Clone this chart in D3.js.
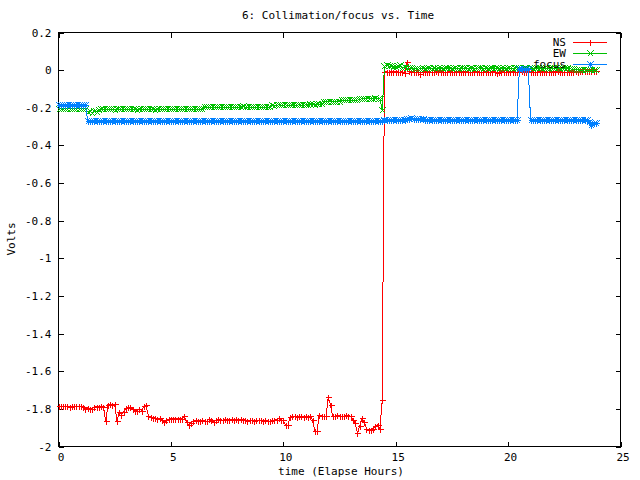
<!DOCTYPE html>
<html><head><meta charset="utf-8">
<script src="https://cdn.jsdelivr.net/npm/d3@7"></script>
<style>
body{margin:0;background:#fff}
svg{display:block}
text{font-family:"DejaVu Sans Mono",monospace;font-size:11px;fill:#000}
</style>
</head><body><svg id="c" width="640" height="480"></svg>
<script>
// sample times (hours), one sample every 0.1 h
const hours = d3.range(240).map(i => i / 10);

const nsValues = [
-1.787,-1.787,-1.787,-1.787,-1.787,-1.788,-1.787,-1.787,-1.787,-1.787,
-1.787,-1.790,-1.800,-1.795,-1.800,-1.800,-1.790,-1.790,-1.790,-1.785,
-1.790,-1.865,-1.778,-1.775,-1.778,-1.776,-1.865,-1.815,-1.830,-1.815,
-1.795,-1.790,-1.792,-1.800,-1.810,-1.810,-1.800,-1.810,-1.785,-1.782,
-1.840,-1.842,-1.850,-1.850,-1.855,-1.850,-1.857,-1.872,-1.860,-1.855,
-1.853,-1.853,-1.853,-1.853,-1.853,-1.853,-1.840,-1.870,-1.885,-1.875,
-1.865,-1.860,-1.865,-1.865,-1.860,-1.865,-1.865,-1.855,-1.860,-1.870,
-1.860,-1.855,-1.860,-1.860,-1.855,-1.860,-1.860,-1.855,-1.860,-1.855,
-1.860,-1.855,-1.860,-1.860,-1.865,-1.860,-1.860,-1.862,-1.860,-1.860,
-1.860,-1.862,-1.860,-1.865,-1.865,-1.860,-1.860,-1.858,-1.850,-1.860,
-1.860,-1.885,-1.888,-1.845,-1.840,-1.840,-1.845,-1.840,-1.840,-1.845,
-1.840,-1.845,-1.840,-1.860,-1.918,-1.918,-1.830,-1.840,-1.840,-1.840,
-1.737,-1.780,-1.840,-1.840,-1.835,-1.840,-1.840,-1.840,-1.835,-1.840,
-1.840,-1.860,-1.875,-1.930,-1.890,-1.850,-1.870,-1.905,-1.910,-1.910,
-1.905,-1.890,-1.885,-1.905,-1.755,-0.010,-0.008,-0.012,-0.008,-0.010,
-0.008,-0.010,-0.012,-0.008,-0.015,0.044,-0.005,-0.010,-0.008,-0.012,
-0.008,-0.018,-0.010,-0.008,-0.010,-0.008,-0.012,-0.010,-0.005,-0.008,
-0.010,-0.008,-0.012,-0.010,-0.008,-0.010,-0.012,-0.008,-0.010,-0.008,
-0.008,-0.010,-0.008,-0.012,-0.010,-0.008,-0.010,-0.008,-0.012,-0.010,
-0.008,-0.010,-0.012,-0.008,-0.010,-0.015,-0.010,-0.008,-0.010,-0.012,
-0.008,-0.010,-0.008,-0.010,-0.012,-0.008,-0.005,-0.008,-0.010,-0.008,
-0.010,-0.008,-0.012,-0.010,-0.008,-0.010,-0.008,-0.010,-0.012,-0.008,
-0.010,-0.008,-0.005,-0.010,-0.008,-0.012,-0.010,-0.008,-0.010,-0.008,
-0.005,-0.008,-0.005,-0.003,-0.005,-0.005,-0.003,-0.005,-0.005,-0.003
];

const ewValues = [
-0.205,-0.205,-0.207,-0.205,-0.205,-0.206,-0.205,-0.205,-0.207,-0.205,
-0.205,-0.205,-0.206,-0.222,-0.218,-0.226,-0.215,-0.220,-0.210,-0.209,
-0.209,-0.209,-0.208,-0.209,-0.209,-0.210,-0.209,-0.209,-0.208,-0.209,
-0.209,-0.208,-0.209,-0.209,-0.209,-0.210,-0.209,-0.208,-0.209,-0.209,
-0.208,-0.209,-0.209,-0.210,-0.209,-0.209,-0.208,-0.209,-0.209,-0.209,
-0.209,-0.208,-0.209,-0.209,-0.208,-0.209,-0.209,-0.208,-0.208,-0.207,
-0.207,-0.207,-0.208,-0.207,-0.207,-0.197,-0.197,-0.196,-0.197,-0.197,
-0.197,-0.196,-0.197,-0.197,-0.197,-0.196,-0.197,-0.197,-0.196,-0.197,
-0.197,-0.197,-0.192,-0.197,-0.196,-0.197,-0.197,-0.196,-0.197,-0.197,
-0.196,-0.197,-0.197,-0.196,-0.197,-0.186,-0.190,-0.186,-0.185,-0.186,
-0.186,-0.185,-0.186,-0.186,-0.185,-0.186,-0.186,-0.185,-0.186,-0.186,
-0.185,-0.186,-0.181,-0.180,-0.186,-0.178,-0.181,-0.180,-0.170,-0.168,
-0.168,-0.168,-0.167,-0.168,-0.168,-0.167,-0.160,-0.160,-0.161,-0.160,
-0.160,-0.160,-0.160,-0.160,-0.155,-0.151,-0.151,-0.152,-0.151,-0.151,
-0.151,-0.150,-0.151,-0.151,-0.213,0.020,0.025,0.020,0.022,0.018,
0.015,0.020,0.027,0.012,0.015,0.010,0.010,0.012,0.005,0.008,
0.005,0.008,0.010,0.008,0.010,0.012,0.008,0.010,0.008,0.010,
0.010,0.008,0.010,0.012,0.010,0.008,0.010,0.010,0.008,0.010,
0.010,0.012,0.008,0.010,0.010,0.008,0.010,0.012,0.010,0.008,
0.010,0.008,0.010,0.012,0.010,0.010,0.008,0.010,0.010,0.008,
0.010,0.010,0.008,0.010,0.012,0.010,0.008,0.010,0.010,0.008,
0.010,0.008,0.010,0.012,0.010,0.008,0.010,0.010,0.008,0.010,
0.010,0.012,0.010,0.008,0.010,0.012,0.010,0.008,0.006,0.005,
0.003,0.002,0.000,0.000,0.001,0.000,0.000,0.000,0.000,0.000
];

const focusValues = [
-0.183,-0.183,-0.183,-0.183,-0.183,-0.183,-0.183,-0.183,-0.183,-0.183,
-0.183,-0.183,-0.184,-0.268,-0.268,-0.268,-0.268,-0.268,-0.268,-0.268,
-0.268,-0.268,-0.268,-0.268,-0.268,-0.268,-0.268,-0.268,-0.268,-0.268,
-0.268,-0.268,-0.268,-0.268,-0.268,-0.268,-0.268,-0.268,-0.268,-0.268,
-0.268,-0.268,-0.268,-0.268,-0.268,-0.268,-0.268,-0.268,-0.268,-0.268,
-0.268,-0.268,-0.268,-0.268,-0.268,-0.268,-0.268,-0.268,-0.268,-0.268,
-0.268,-0.268,-0.268,-0.268,-0.268,-0.268,-0.268,-0.268,-0.268,-0.268,
-0.268,-0.268,-0.268,-0.268,-0.268,-0.268,-0.268,-0.268,-0.268,-0.268,
-0.268,-0.268,-0.268,-0.268,-0.268,-0.268,-0.268,-0.268,-0.268,-0.268,
-0.268,-0.268,-0.268,-0.268,-0.268,-0.268,-0.268,-0.268,-0.268,-0.268,
-0.268,-0.268,-0.268,-0.268,-0.268,-0.268,-0.268,-0.268,-0.268,-0.268,
-0.268,-0.268,-0.268,-0.268,-0.268,-0.268,-0.268,-0.268,-0.268,-0.268,
-0.268,-0.268,-0.268,-0.268,-0.268,-0.268,-0.268,-0.268,-0.268,-0.268,
-0.268,-0.268,-0.268,-0.268,-0.268,-0.268,-0.268,-0.268,-0.268,-0.268,
-0.268,-0.268,-0.268,-0.268,-0.268,-0.266,-0.266,-0.266,-0.266,-0.266,
-0.266,-0.266,-0.266,-0.266,-0.266,-0.258,-0.258,-0.257,-0.258,-0.258,
-0.258,-0.258,-0.258,-0.266,-0.266,-0.266,-0.266,-0.266,-0.266,-0.266,
-0.266,-0.266,-0.266,-0.266,-0.266,-0.266,-0.266,-0.266,-0.266,-0.266,
-0.266,-0.266,-0.266,-0.266,-0.266,-0.266,-0.266,-0.266,-0.266,-0.266,
-0.266,-0.266,-0.266,-0.266,-0.266,-0.266,-0.266,-0.266,-0.266,-0.266,
-0.266,-0.266,-0.266,-0.266,-0.266,0.005,0.005,0.005,0.005,0.005,
-0.266,-0.266,-0.266,-0.266,-0.266,-0.266,-0.266,-0.266,-0.266,-0.266,
-0.266,-0.266,-0.266,-0.266,-0.266,-0.266,-0.266,-0.266,-0.266,-0.266,
-0.266,-0.266,-0.266,-0.266,-0.266,-0.266,-0.275,-0.290,-0.283,-0.282
];

const seriesNames = ["NS", "EW", "focus"];
const xTicks = [0, 5, 10, 15, 20, 25];
const yTicks = [0.2, 0, -0.2, -0.4, -0.6, -0.8, -1, -1.2, -1.4, -1.6, -1.8, -2];
const titleText = "6: Collimation/focus vs. Time";
const xLabel = "time (Elapse Hours)";
const yLabel = "Volts";

// styles
const colors = {NS: "#ff0000", EW: "#00c000", focus: "#0080ff"};
const markerPaths = {
  NS: "M-3,0H3M0,-3V3",
  EW: "M-3,-3L3,3M-3,3L3,-3",
  focus: "M-3,0H3M0,-3V3M-3,-3L3,3M-3,3L3,-3"
};

const series = [
  {name: "NS", values: nsValues},
  {name: "EW", values: ewValues},
  {name: "focus", values: focusValues}
];

const svg = d3.select("#c");
const L = 58.5, R = 620.5, T = 32.5, B = 446.5;
const x = d3.scaleLinear().domain([0, 25]).range([L, R]);
const y = d3.scaleLinear().domain([-2, 0.2]).range([B, T]);

const fmt = v => String(+v.toFixed(1));

// axes (ticks inward, mirrored)
const axB = svg.append("g").attr("transform", `translate(0,${B})`)
  .call(d3.axisBottom(x).tickValues(xTicks).tickFormat(fmt).tickSizeInner(-5).tickSizeOuter(0).tickPadding(7));
const axT = svg.append("g").attr("transform", `translate(0,${T})`)
  .call(d3.axisTop(x).tickValues(xTicks).tickFormat("").tickSizeInner(-5).tickSizeOuter(0));
const axL = svg.append("g").attr("transform", `translate(${L},0)`)
  .call(d3.axisLeft(y).tickValues(yTicks).tickFormat(fmt).tickSizeInner(-5).tickSizeOuter(0).tickPadding(7));
const axR = svg.append("g").attr("transform", `translate(${R},0)`)
  .call(d3.axisRight(y).tickValues(yTicks).tickFormat("").tickSizeInner(-5).tickSizeOuter(0));
[axB, axT, axL, axR].forEach(a => {
  a.select(".domain").remove();
  a.selectAll("line").attr("stroke", "#000").attr("shape-rendering", "crispEdges");
  a.selectAll("text").attr("font-family", "DejaVu Sans Mono, monospace").attr("font-size", 11).attr("fill", "#000");
});
axB.selectAll("text").attr("dx", 2);

svg.append("rect").attr("x", L).attr("y", T).attr("width", R - L).attr("height", B - T)
  .attr("fill", "none").attr("stroke", "#000").attr("shape-rendering", "crispEdges");

// series
const line = d3.line().x((d, i) => x(hours[i])).y(d => y(d));
series.forEach(s => {
  const g = svg.append("g");
  g.append("path").datum(s.values).attr("d", line)
    .attr("fill", "none").attr("stroke", colors[s.name]).attr("stroke-width", 1)
    .attr("shape-rendering", "crispEdges");
  g.selectAll("path.m").data(s.values).join("path").attr("class", "m")
    .attr("d", markerPaths[s.name])
    .attr("transform", (d, i) => `translate(${Math.round(x(hours[i]))+0.5},${Math.round(y(d))+0.5})`)
    .attr("fill", "none").attr("stroke", colors[s.name]).attr("stroke-width", 1)
    .attr("shape-rendering", "crispEdges");
});

// legend
const legend = svg.append("g");
seriesNames.forEach((n, i) => {
  const ly = 42.5 + i * 11;
  legend.append("text").attr("x", 566).attr("y", ly).attr("text-anchor", "end")
    .attr("dominant-baseline", "middle").attr("font-size", 10.5).text(n);
  legend.append("line").attr("x1", 573).attr("x2", 607).attr("y1", ly).attr("y2", ly)
    .attr("stroke", colors[n]).attr("shape-rendering", "crispEdges");
  legend.append("path").attr("d", markerPaths[n]).attr("transform", `translate(590.5,${ly})`)
    .attr("fill", "none").attr("stroke", colors[n]).attr("shape-rendering", "crispEdges");
});

// titles
svg.append("text").attr("x", 338).attr("y", 16).attr("text-anchor", "middle")
  .attr("dominant-baseline", "middle").attr("font-size", 11.7).text(titleText);
svg.append("text").attr("x", 341).attr("y", 472).attr("text-anchor", "middle")
  .attr("dominant-baseline", "middle").text(xLabel);
svg.append("text").attr("transform", "translate(12,239) rotate(-90)").attr("text-anchor", "middle")
  .attr("dominant-baseline", "middle").text(yLabel);
</script>
</body></html>
